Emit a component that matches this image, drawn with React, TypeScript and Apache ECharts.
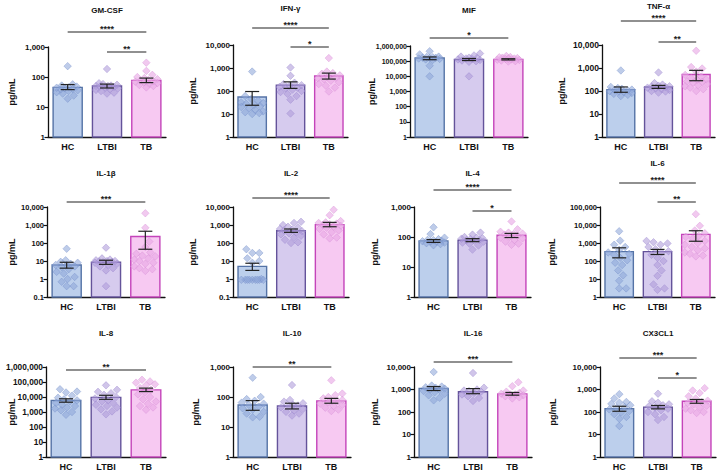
import React, { useEffect, useRef } from "react";
import * as echarts from "echarts";

const groups = ["HC", "LTBI", "TB"];
const cytokines = ["GM-CSF", "IFN-γ", "MIF", "TNF-α", "IL-1β", "IL-2", "IL-4", "IL-6", "IL-8", "IL-10", "IL-16", "CX3CL1"];
const unitLabel = "pg/mL";
const axisMin = [1, 1, 1, 1, 0.1, 0.1, 1, 1, 1, 1, 1, 1];
const axisMax = [1000, 10000, 1000000, 10000, 10000, 10000, 1000, 100000, 1000000, 1000, 10000, 10000];

const meanValues = [
  [45, 50, 77], [55, 180, 450], [160000, 130000, 130000], [115, 150, 520],
  [6, 8.5, 230], [5, 480, 1050], [74, 78, 114], [330, 330, 3000],
  [5800, 9500, 30000], [54, 50, 74], [1100, 800, 640], [140, 165, 300],
];
const semLow = [
  [38, 43, 65], [24, 130, 330], [125000, 110000, 120000], [88, 130, 280],
  [4, 6.5, 45], [3, 390, 800], [66, 70, 96], [150, 230, 1250],
  [4500, 7000, 23000], [36, 40, 62], [900, 650, 560], [108, 138, 245],
];
const semHigh = [
  [56, 58, 92], [95, 250, 600], [190000, 150000, 145000], [150, 175, 790],
  [8.5, 11, 450], [7.5, 600, 1400], [82, 88, 132], [540, 440, 4800],
  [7600, 13000, 39000], [76, 62, 90], [1350, 1100, 740], [180, 195, 360],
];

const ptsGMCSF = [
  [230, 57, 52, 48, 45, 42, 40, 38, 36, 34, 31, 28, 24, 19, 44],
  [185, 62, 58, 55, 52, 50, 48, 46, 44, 42, 40, 37, 34, 30, 28, 50],
  [300, 160, 118, 100, 92, 85, 80, 75, 70, 66, 62, 58, 54, 50, 45, 72],
];
const ptsIFNG = [
  [700, 60, 45, 38, 32, 28, 25, 22, 20, 18, 15, 13, 11, 10, 12, 30],
  [1050, 460, 230, 200, 170, 150, 130, 115, 100, 90, 75, 60, 42, 10.5, 140, 180],
  [2700, 700, 560, 480, 420, 360, 320, 280, 240, 200, 170, 140, 95, 600, 380],
];
const ptsMIF = [
  [450000, 280000, 200000, 180000, 170000, 160000, 150000, 140000, 130000, 120000, 50000, 10000, 190000, 165000],
  [320000, 240000, 200000, 170000, 150000, 140000, 130000, 120000, 110000, 100000, 90000, 10000, 160000],
  [220000, 190000, 170000, 160000, 150000, 140000, 130000, 125000, 120000, 110000, 100000, 95000, 180000, 145000],
];
const ptsTNFA = [
  [780, 150, 135, 125, 115, 105, 98, 90, 82, 75, 68, 60, 110, 95],
  [640, 220, 190, 170, 160, 150, 140, 130, 120, 110, 100, 95, 85, 155],
  [5600, 1100, 950, 700, 500, 420, 360, 300, 260, 230, 200, 180, 160, 140, 120, 100, 320, 250],
];
const ptsIL1B = [
  [48, 11, 9, 8, 7, 6, 5, 4.5, 3.5, 2.5, 2, 1.3, 1, 0.7, 0.4, 0.4, 6],
  [55, 14, 12, 11, 10, 9.5, 9, 8.5, 8, 7, 6, 5, 4, 3, 0.4, 10],
  [4500, 700, 120, 60, 30, 25, 20, 14, 12, 10, 8, 7, 5, 4, 3.5, 2.8, 18],
];
const ptsIL2 = [
  [45, 28, 28, 14, 10, 8, 1, 0.9, 0.9, 0.9, 0.9, 0.9, 0.9, 0.9, 0.9, 0.9],
  [1500, 1300, 1000, 800, 700, 600, 500, 450, 400, 350, 300, 250, 200, 150, 110, 100, 550],
  [7000, 3500, 1650, 1400, 1200, 1100, 1000, 900, 800, 700, 600, 500, 400, 300, 200, 180, 1300],
];
const ptsIL4 = [
  [210, 125, 95, 85, 80, 75, 72, 70, 68, 65, 62, 58, 53, 78],
  [140, 120, 100, 95, 90, 85, 80, 78, 75, 70, 65, 60, 52, 38, 88],
  [330, 180, 150, 140, 130, 120, 110, 100, 95, 90, 80, 70, 60, 55, 125],
];
const ptsIL6 = [
  [4500, 1350, 800, 600, 420, 300, 220, 150, 110, 80, 60, 30, 16, 8, 3, 3, 250],
  [1300, 1100, 950, 800, 600, 450, 350, 300, 220, 150, 100, 60, 30, 15, 5, 3, 2.5],
  [40000, 9000, 5000, 3500, 2500, 1800, 1300, 1000, 800, 600, 500, 400, 300, 250, 200, 180, 2200],
];
const ptsIL8 = [
  [33000, 23000, 20000, 12000, 9000, 7000, 6000, 5000, 4000, 3000, 2500, 2000, 1700, 1300, 1000, 650],
  [60000, 30000, 22000, 18000, 14000, 10000, 8000, 6000, 5000, 4000, 3000, 2500, 2000, 1500, 1100, 700],
  [140000, 110000, 90000, 70000, 60000, 40000, 30000, 20000, 15000, 10000, 7000, 5000, 3500, 2500, 2000, 1400],
];
const ptsIL10 = [
  [440, 100, 85, 75, 65, 55, 48, 42, 38, 32, 28, 22, 21, 60],
  [250, 80, 70, 62, 55, 50, 45, 40, 36, 32, 28, 24, 52],
  [360, 130, 115, 100, 90, 80, 72, 66, 60, 55, 50, 44, 38, 34, 75],
];
const ptsIL16 = [
  [6000, 1500, 1350, 1200, 1100, 1000, 950, 850, 750, 650, 550, 430, 330, 1250],
  [5400, 1200, 1000, 900, 800, 700, 600, 500, 420, 310, 850],
  [2100, 1400, 900, 800, 700, 650, 600, 550, 500, 450, 400, 600],
];
const ptsCX3CL1 = [
  [620, 400, 280, 260, 230, 200, 170, 150, 130, 110, 95, 80, 60, 50, 24],
  [650, 300, 260, 220, 200, 180, 160, 140, 120, 100, 80, 60, 44],
  [1150, 900, 700, 500, 400, 320, 280, 250, 220, 190, 160, 140, 120, 100, 90],
];
const pointValues = [ptsGMCSF, ptsIFNG, ptsMIF, ptsTNFA, ptsIL1B, ptsIL2, ptsIL4, ptsIL6, ptsIL8, ptsIL10, ptsIL16, ptsCX3CL1];

const comparisons: [number, number, string][][] = [
  [[0, 2, "****"], [1, 2, "**"]],
  [[0, 2, "****"], [1, 2, "*"]],
  [[0, 2, "*"]],
  [[0, 2, "****"], [1, 2, "**"]],
  [[0, 2, "***"]],
  [[0, 2, "****"]],
  [[0, 2, "****"], [1, 2, "*"]],
  [[0, 2, "****"], [1, 2, "**"]],
  [[0, 2, "**"]],
  [[0, 2, "**"]],
  [[0, 2, "***"]],
  [[0, 2, "***"], [1, 2, "*"]],
];

// ---- layout / style ----
const gridLeft = [48, 233, 410, 602, 47, 233, 414, 600, 46, 233, 414, 600];
const gridTop = [47, 45, 46, 45, 207, 207, 207, 207, 367, 367, 367, 367];
const gridBottomY = [137, 137, 137, 137, 297, 297, 297, 297, 457, 457, 457, 457];
const gridWidth = [118, 115, 118, 113, 118, 116, 117, 115, 120, 118, 118, 116];
const titleY = [10, 8, 10, 6, 173, 173, 173, 163, 333, 333, 333, 333];
const nameX = [12, 193, 372, 562, 12, 193, 375, 552, 12, 196, 375, 553];
const tickFont = [8, 8, 7, 8.5, 7.5, 8, 8, 7.5, 8.3, 8, 8, 8];
const bracketY = [[32, 52], [28, 47], [38], [21, 42], [202], [198], [190, 211], [183, 202], [370], [367], [362], [358, 378]];

const FONT = "'Liberation Sans', Arial, sans-serif";
const fillColors = ["#bccfec", "#d6cbee", "#f7c9f2"];
const edgeColors = ["#5573a6", "#64539a", "#c444ba"];
const dotColors = ["rgba(142,166,216,0.72)", "rgba(174,154,216,0.72)", "rgba(232,168,230,0.78)"];
const dotEdge = ["rgba(112,140,200,0.8)", "rgba(150,128,204,0.8)", "rgba(214,140,212,0.8)"];

function swarmOffsets(vals: number[], ppd: number): number[] {
  const order = vals.map((_, i) => i).sort((a, b) => vals[a] - vals[b]);
  const placed: { x: number; y: number }[] = [];
  const res = new Array(vals.length).fill(0);
  const cands: number[] = [];
  for (let k = 0; k <= 11; k++) {
    cands.push(k);
    if (k) cands.push(-k);
  }
  for (const i of order) {
    const y = Math.log10(vals[i]) * ppd;
    let best = 0;
    let bestD = -1;
    for (const c of cands) {
      let md = Infinity;
      for (const p of placed) {
        const d = Math.hypot(p.x - c, p.y - y);
        if (d < md) md = d;
      }
      if (md >= 6.5) {
        best = c;
        bestD = md;
        break;
      }
      if (md > bestD) {
        bestD = md;
        best = c;
      }
    }
    placed.push({ x: best, y });
    res[i] = best;
  }
  return res;
}

function buildOption() {
  const grids: any[] = [];
  const xAxes: any[] = [];
  const yAxes: any[] = [];
  const series: any[] = [];
  const graphics: any[] = [];

  cytokines.forEach((name, p) => {
    const height = gridBottomY[p] - gridTop[p];
    grids.push({ left: gridLeft[p], top: gridTop[p], width: gridWidth[p], height, outerBoundsMode: "none" });
    xAxes.push({
      type: "category",
      gridIndex: p,
      data: groups,
      axisLine: { lineStyle: { color: "#111", width: 1.3 } },
      axisTick: { show: false },
      axisLabel: { color: "#111", fontWeight: "bold", fontSize: 9, fontFamily: FONT, margin: 5 },
      splitLine: { show: false },
    });
    yAxes.push({
      type: "log",
      logBase: 10,
      gridIndex: p,
      min: axisMin[p],
      max: axisMax[p],
      axisLine: { show: true, lineStyle: { color: "#111", width: 1.3 } },
      axisTick: { show: true, length: 3.5, lineStyle: { color: "#111", width: 1.2 } },
      axisLabel: {
        color: "#111",
        fontWeight: "bold",
        fontSize: tickFont[p],
        fontFamily: FONT,
        margin: 3,
        formatter: (v: number) => Number(v).toLocaleString("en-US", { maximumFractionDigits: 1 }),
      },
      splitLine: { show: false },
    });

    graphics.push({
      type: "text",
      x: gridLeft[p] + gridWidth[p] / 2,
      y: titleY[p],
      style: {
        text: name,
        textAlign: "center",
        textVerticalAlign: "middle",
        font: `bold 8px ${FONT}`,
        fill: "#111",
      },
    });
    graphics.push({
      type: "text",
      x: nameX[p],
      y: (gridTop[p] + gridBottomY[p]) / 2,
      rotation: Math.PI / 2,
      style: {
        text: unitLabel,
        textAlign: "center",
        textVerticalAlign: "middle",
        font: `bold 9px ${FONT}`,
        fill: "#111",
      },
    });

    const lo = axisMin[p];
    // bars
    series.push({
      type: "custom",
      xAxisIndex: p,
      yAxisIndex: p,
      z: 1,
      data: meanValues[p].map((m, i) => [i, m]),
      encode: { x: 0, y: 1 },
      renderItem: (params: any, api: any) => {
        const i = api.value(0);
        const m = api.value(1);
        const top = api.coord([i, m]);
        const bot = api.coord([i, lo]);
        const band = Math.abs(api.coord([1, m])[0] - api.coord([0, m])[0]);
        const bw = band * 0.74;
        return {
          type: "rect",
          shape: { x: top[0] - bw / 2, y: top[1], width: bw, height: bot[1] - top[1] },
          style: { fill: fillColors[i], stroke: edgeColors[i], lineWidth: 1.4 },
        };
      },
    });

    // points
    const ppd = height / (Math.log10(axisMax[p]) - Math.log10(axisMin[p]));
    const pts: any[] = [];
    pointValues[p].forEach((vals, g) => {
      const offs = swarmOffsets(vals, ppd);
      vals.forEach((v, k) => {
        pts.push({
          value: [g, v],
          symbolOffset: [offs[k], 0],
          itemStyle: { color: dotColors[g], borderColor: dotEdge[g], borderWidth: 0.6 },
        });
      });
    });
    series.push({
      type: "scatter",
      xAxisIndex: p,
      yAxisIndex: p,
      z: 2,
      symbol: "diamond",
      symbolSize: 7.5,
      data: pts,
    });

    // error bars
    series.push({
      type: "custom",
      xAxisIndex: p,
      yAxisIndex: p,
      z: 3,
      data: meanValues[p].map((m, i) => [i, m, semLow[p][i], semHigh[p][i]]),
      encode: { x: 0, y: [1, 2, 3] },
      renderItem: (params: any, api: any) => {
        const i = api.value(0);
        const a = api.coord([i, api.value(2)]);
        const b = api.coord([i, api.value(3)]);
        const cw = 7;
        const st = { stroke: "#222", lineWidth: 1.2 };
        return {
          type: "group",
          children: [
            { type: "line", shape: { x1: a[0], y1: a[1], x2: b[0], y2: b[1] }, style: st },
            { type: "line", shape: { x1: a[0] - cw, y1: a[1], x2: a[0] + cw, y2: a[1] }, style: st },
            { type: "line", shape: { x1: b[0] - cw, y1: b[1], x2: b[0] + cw, y2: b[1] }, style: st },
          ],
        };
      },
    });

    // significance brackets
    const top = axisMax[p];
    series.push({
      type: "custom",
      xAxisIndex: p,
      yAxisIndex: p,
      z: 4,
      clip: false,
      data: comparisons[p].map((c) => [c[0], top]),
      encode: { x: 0, y: 1 },
      renderItem: (params: any, api: any) => {
        const c = comparisons[p][params.dataIndex];
        const p1 = api.coord([c[0], top]);
        const p2 = api.coord([c[1], top]);
        const y = p1[1] + (bracketY[p][params.dataIndex] - gridTop[p]);
        return {
          type: "group",
          children: [
            { type: "line", shape: { x1: p1[0], y1: y, x2: p2[0], y2: y }, style: { stroke: "#222", lineWidth: 1.1 } },
            {
              type: "text",
              x: (p1[0] + p2[0]) / 2,
              y: y - 3,
              style: {
                text: c[2],
                textAlign: "center",
                textVerticalAlign: "middle",
                font: `bold 9px ${FONT}`,
                fill: "#222",
              },
            },
          ],
        };
      },
    });
  });

  return {
    animation: false,
    backgroundColor: "#ffffff",
    grid: grids,
    xAxis: xAxes,
    yAxis: yAxes,
    series,
    graphic: graphics,
  };
}

export default function App() {
  const ref = useRef<HTMLDivElement>(null);
  useEffect(() => {
    document.body.style.margin = "0";
    if (!ref.current) return;
    const chart = echarts.init(ref.current, null, { renderer: "svg" });
    chart.setOption(buildOption() as any);
    return () => chart.dispose();
  }, []);
  return <div ref={ref} style={{ width: 720, height: 470, background: "#fff" }} />;
}
